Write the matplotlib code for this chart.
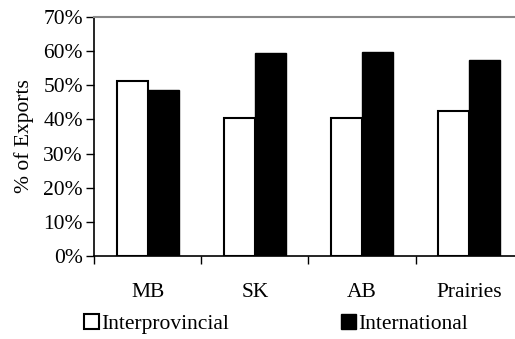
import numpy as np
import matplotlib.pyplot as plt
from matplotlib.ticker import PercentFormatter

regions = ['MB', 'SK', 'AB', 'Prairies']
interprovincial = [51.4, 40.4, 40.3, 42.6]
international = [48.6, 59.6, 59.7, 57.4]

plt.rcParams['font.family'] = 'Liberation Serif'
fontSize = 15.5

fig = plt.figure(figsize=(5.15, 3.39), dpi=100)
ax = fig.add_axes([0.1825, 0.2457, 0.833, 0.7033])

x = np.arange(len(regions))
w = 0.29
ax.bar(x - w, interprovincial, w, align='edge', color='white', edgecolor='black',
       linewidth=1.5, label='Interprovincial', zorder=2)
ax.bar(x, international, w, align='edge', color='black', edgecolor='black',
       linewidth=1.0, label='International', zorder=2)

ax.set_xlim(-0.5, 3.5)
ax.set_ylim(0, 70)
ax.set_yticks(np.arange(0, 71, 10))
ax.yaxis.set_major_formatter(PercentFormatter(decimals=0))
ax.set_ylabel('% of Exports', fontsize=fontSize)
ax.yaxis.set_label_coords(-0.14, 0.5)

# category labels centred, tick marks on the boundaries
ax.set_xticks(x)
ax.set_xticks(np.arange(-0.5, 4.0, 1.0), minor=True)
ax.set_xticklabels(regions)
ax.tick_params(axis='x', which='major', length=0, pad=20, labelsize=fontSize)
ax.tick_params(axis='x', which='minor', length=6, width=1, direction='out')
ax.tick_params(axis='y', length=6, width=1, direction='out', labelsize=fontSize, pad=2)

ax.spines['right'].set_visible(False)
ax.spines['top'].set_color('#888888')
ax.spines['top'].set_linewidth(1.5)
ax.spines['left'].set_linewidth(1.2)
ax.spines['bottom'].set_linewidth(1.2)

leg = fig.legend(loc='center', bbox_to_anchor=(0.535, 0.043), ncol=2, frameon=False,
                 fontsize=fontSize, handlelength=0.7, handleheight=0.7,
                 handletextpad=0.1, columnspacing=5.2)

fig.savefig('out.png', dpi=100)
